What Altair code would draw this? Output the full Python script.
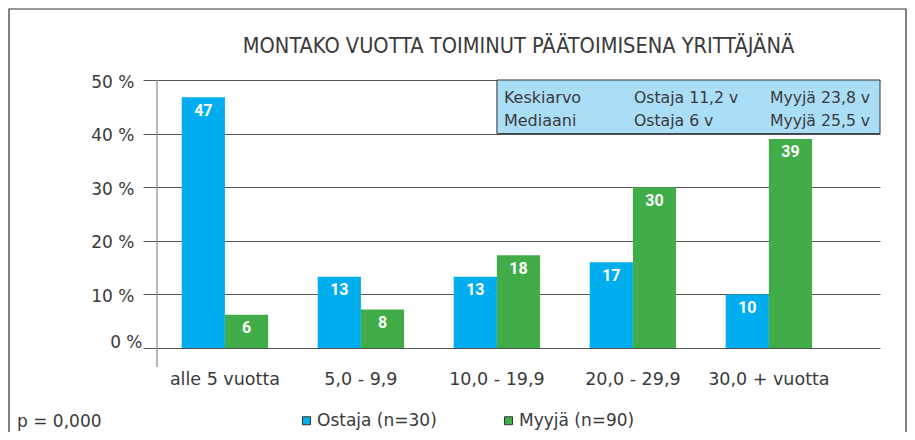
import altair as alt
import pandas as pd

# ---------------- data ----------------
categories = ["alle 5 vuotta", "5,0 - 9,9", "10,0 - 19,9", "20,0 - 29,9", "30,0 + vuotta"]
series_names = ["Ostaja (n=30)", "Myyjä (n=90)"]
ostaja_values = [46.8, 13.3, 13.3, 16.0, 10.0]
ostaja_labels = ["47", "13", "13", "17", "10"]
myyja_values = [6.2, 7.2, 17.3, 30.0, 39.0]
myyja_labels = ["6", "8", "18", "30", "39"]
series_colors = ["#00AEEF", "#40AD48"]
y_ticks = [0, 10, 20, 30, 40, 50]

title_text = "MONTAKO VUOTTA TOIMINUT PÄÄTOIMISENA YRITTÄJÄNÄ"
p_text = "p = 0,000"

stat_names = ["Keskiarvo", "Mediaani"]
stat_ostaja = ["Ostaja 11,2 v", "Ostaja 6 v"]
stat_myyja = ["Myyjä 23,8 v", "Myyjä 25,5 v"]
box_range = [40, 50]

# ---------------- tables ----------------
rows = []
for i, c in enumerate(categories):
    rows.append({"category": c, "series": series_names[0], "value": ostaja_values[i], "label": ostaja_labels[i]})
    rows.append({"category": c, "series": series_names[1], "value": myyja_values[i], "label": myyja_labels[i]})
df = pd.DataFrame(rows)

box_df = pd.DataFrame([{"category": categories[2], "value": box_range[1], "lo": box_range[0]}])
col1_df = pd.DataFrame([{"category": categories[2], "value": box_range[1], "txt": "\n".join(stat_names)}])
col23_df = pd.DataFrame([
    {"category": categories[3], "value": box_range[1], "txt": "\n".join(stat_ostaja)},
    {"category": categories[4], "value": box_range[1], "txt": "\n".join(stat_myyja)},
])

FONT = "DejaVu Sans"
TITLE_FONT = "DejaVu Sans Condensed, DejaVu Sans"
TXT = "#3a3a3a"
W, H = 723, 268

x_scale = alt.Scale(domain=categories, paddingInner=0.365, paddingOuter=0.3407, align=0.267, round=False)
y_scale = alt.Scale(domain=[0, 50], nice=False, zero=True)

x_axis = alt.Axis(title=None, ticks=False, tickSize=0, domain=False, labelAngle=0,
                  labelFontSize=17.5, labelPadding=22, labelColor=TXT, labelFont=FONT, grid=False)
y_axis = alt.Axis(values=y_ticks, labelExpr="datum.value + ' %'", title=None, domain=False,
                  grid=True, gridColor="#555", gridWidth=1, tickSize=14, tickColor="#555",
                  labelPadding=alt.ConditionalAxisNumber(condition={"test": "datum.value == 0", "value": 1}, value=9),
                  labelOffset=alt.ConditionalAxisNumber(condition={"test": "datum.value == 0", "value": -6}, value=2),
                  labelFontSize=17, labelColor=TXT, labelFont=FONT)

bars = alt.Chart(df).mark_bar().encode(
    x=alt.X("category:N", sort=categories, scale=x_scale, axis=x_axis),
    xOffset=alt.XOffset("series:N", sort=series_names,
                        scale=alt.Scale(domain=series_names, paddingInner=0, paddingOuter=0)),
    y=alt.Y("value:Q", scale=y_scale, axis=y_axis),
    color=alt.Color("series:N", scale=alt.Scale(domain=series_names, range=series_colors),
                    legend=alt.Legend(orient="none", legendX=141, legendY=332, direction="horizontal",
                                      title=None, symbolType="square", symbolSize=64,
                                      symbolStrokeColor="#333", symbolStrokeWidth=1,
                                      labelFontSize=17, labelFont=FONT, labelColor=TXT,
                                      columnPadding=63, labelOffset=2)),
)

labels = alt.Chart(df).mark_text(color="white", fontSize=16, font="Roboto", fontWeight="bold",
                                 baseline="middle", dy=13.5).encode(
    x=alt.X("category:N", sort=categories),
    xOffset=alt.XOffset("series:N", sort=series_names),
    y=alt.Y("value:Q"),
    text="label:N",
)

box = alt.Chart(box_df).mark_rect(fill="#AADEF6", stroke="#333", strokeWidth=1).encode(
    x=alt.X("category:N", sort=categories, bandPosition=0.5),
    x2=alt.value(W),
    y=alt.Y("value:Q"),
    y2="lo:Q",
)

col1 = alt.Chart(col1_df).mark_text(align="left", baseline="alphabetic", dx=7, dy=22.5, lineBreak="\n",
                                    lineHeight=23, fontSize=16, font=FONT, color=TXT).encode(
    x=alt.X("category:N", sort=categories, bandPosition=0.5),
    y=alt.Y("value:Q"),
    text="txt:N",
)
col23 = alt.Chart(col23_df).mark_text(align="left", baseline="alphabetic", dx=1, dy=22.5, lineBreak="\n",
                                      lineHeight=23, fontSize=15.7, font=FONT, color=TXT).encode(
    x=alt.X("category:N", sort=categories, bandPosition=0.5),
    y=alt.Y("value:Q"),
    text="txt:N",
)

one = alt.Data(values=[{}])
frame = alt.Chart(one).mark_rect(fill=None, stroke="#333", strokeWidth=1.2).encode(
    x=alt.value(-148), x2=alt.value(749), y=alt.value(-71), y2=alt.value(400))
yline = alt.Chart(one).mark_rule(color="#888", strokeWidth=1.2).encode(
    x=alt.value(0), y=alt.value(0), y2=alt.value(287))
ptext = alt.Chart(one).mark_text(align="left", baseline="middle", fontSize=17, font=FONT, color=TXT).encode(
    x=alt.value(-140), y=alt.value(342), text=alt.value(p_text))
title = alt.Chart(one).mark_text(align="center", baseline="alphabetic", fontSize=21.6, font=TITLE_FONT,
                                 color=TXT).encode(
    x=alt.value(W / 2), y=alt.value(-27), text=alt.value(title_text))

chart = alt.layer(bars, frame, box, col1, col23, labels, yline, ptext, title).properties(
    width=W, height=H,
    autosize=alt.AutoSizeParams(type="none"),
    padding={"left": 149, "top": 72, "right": 27, "bottom": 84},
).configure_view(stroke=None)

chart.save("out.html", embed_options={"renderer": "svg", "actions": False})
